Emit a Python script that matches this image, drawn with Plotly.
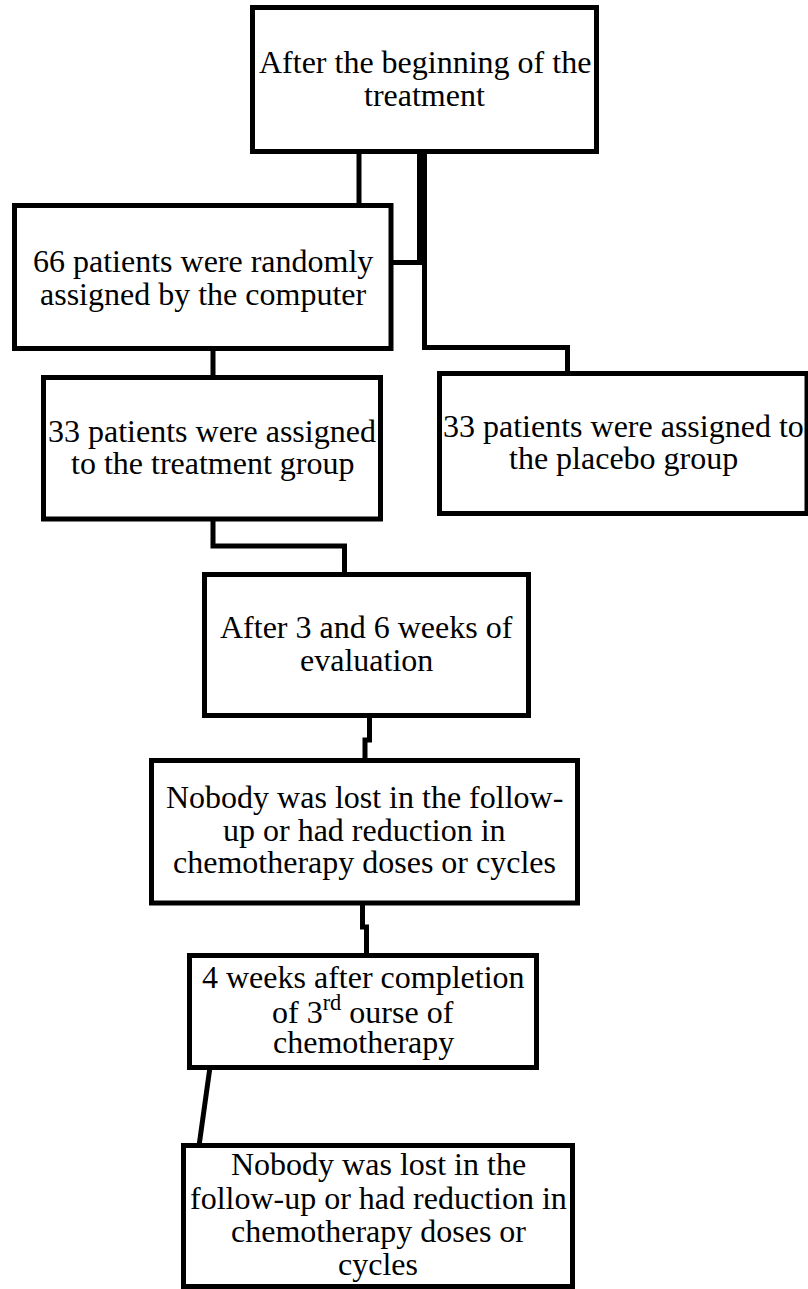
import plotly.graph_objects as go

# ---- content (text of each box, one entry per printed line) ----
box_names = ["start", "random", "treat", "placebo", "eval", "nolost1", "after3", "nolost2"]
box_lines = [
    ["After the beginning of the", "treatment"],
    ["66 patients were randomly", "assigned by the computer"],
    ["33 patients were assigned", "to the treatment group"],
    ["33 patients were assigned to", "the placebo group"],
    ["After 3 and 6 weeks of", "evaluation"],
    ["Nobody was lost in the follow-", "up or had reduction in", "chemotherapy doses or cycles"],
    ["4 weeks after completion", "of 3<sup>rd</sup> ourse of", "chemotherapy"],
    ["Nobody was lost in the", "follow-up or had reduction in", "chemotherapy doses or", "cycles"],
]

# ---- layout geometry (pixel space of the page) ----
box_x0 = [252.5, 14.5, 43.5, 439.5, 204.5, 151.5, 189.5, 183.5]
box_x1 = [596.5, 391.0, 380.5, 807.0, 528.5, 577.5, 536.5, 572.5]
box_y0 = [7.5, 205.5, 377.5, 373.5, 574.5, 760.5, 955.5, 1145.5]
box_y1 = [151.5, 348.5, 519.0, 513.5, 715.5, 903.0, 1067.5, 1286.5]
baselines = [
    [73, 106],
    [272, 305],
    [442, 474],
    [437, 469],
    [638, 671],
    [808, 841, 873],
    [988, 1021, 1053],
    [1175, 1209, 1242, 1275],
]

# connectors: list of polylines (x list, y list, width)
connectors = [
    ([359, 359], [151, 205], 5),
    ([422, 422], [151, 265], 10),
    ([391, 424.5], [262.5, 262.5], 5),
    ([424.5, 424.5, 567.5, 567.5], [260, 347.5, 347.5, 374], 5),
    ([213, 213], [348, 378], 5),
    ([213, 213, 344.5, 344.5], [519, 546, 546, 575], 5),
    ([369.5, 369.5, 365, 365], [715, 740, 740, 761], 5),
    ([362.5, 362.5, 366.5, 366.5], [903, 927, 927, 956], 5),
    ([210, 199], [1067, 1146], 5),
]

FONT = "Liberation Serif, Times New Roman, serif"
FS = 32

fig = go.Figure()

for xs, ys, w in connectors:
    fig.add_trace(go.Scatter(x=xs, y=ys, mode="lines",
                             line=dict(color="black", width=w),
                             hoverinfo="skip", showlegend=False))

shapes = []
for i in range(len(box_names)):
    shapes.append(dict(type="rect", xref="x", yref="y",
                       x0=box_x0[i], x1=box_x1[i], y0=box_y0[i], y1=box_y1[i],
                       line=dict(color="black", width=5), fillcolor="white",
                       layer="above"))

annotations = []
for i, lines in enumerate(box_lines):
    cx = (box_x0[i] + box_x1[i]) / 2
    for txt, b in zip(lines, baselines[i]):
        annotations.append(dict(x=cx, y=b - 0.3375 * FS, xref="x", yref="y",
                                text=txt, showarrow=False,
                                xanchor="center", yanchor="middle",
                                font=dict(family=FONT, size=FS, color="black")))

fig.update_layout(
    width=808, height=1289,
    margin=dict(l=0, r=0, t=0, b=0),
    paper_bgcolor="white", plot_bgcolor="white",
    font=dict(family=FONT, size=FS, color="black"),
    xaxis=dict(range=[0, 808], visible=False, fixedrange=True),
    yaxis=dict(range=[1289, 0], visible=False, fixedrange=True),
    shapes=shapes, annotations=annotations, showlegend=False,
)

fig.write_html("out.html", config={"displayModeBar": False},
               post_script="document.body.style.margin='0';")
